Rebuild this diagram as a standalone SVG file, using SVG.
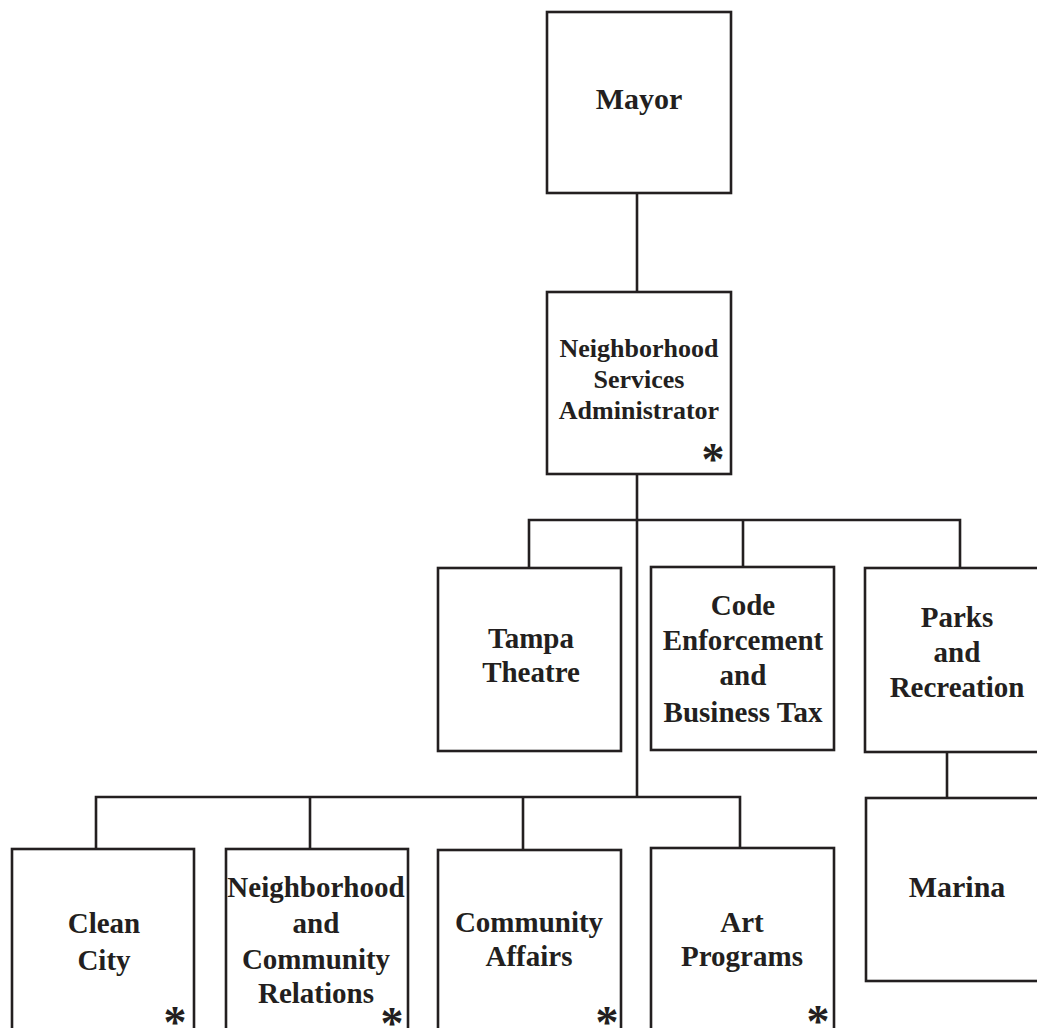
<svg xmlns="http://www.w3.org/2000/svg" width="1037" height="1028" viewBox="0 0 1037 1028">
<style>
.box{fill:#fff;stroke:#231f20;stroke-width:2.6}
.ln{fill:none;stroke:#231f20;stroke-width:2.6}
text{font-family:"Liberation Serif","Times New Roman",serif;font-weight:bold;fill:#231f20;text-anchor:middle}
.t29{font-size:29px}
.t26{font-size:26px}
.t30{font-size:30px}
.ast{font-size:46px}
</style>
<rect width="1037" height="1028" fill="#fff"/>
<g id="connectors">
<path class="ln" d="M637 193V292"/>
<path class="ln" d="M637 474V797"/>
<path class="ln" d="M529 568V520H960V568"/>
<path class="ln" d="M743 520V567"/>
<path class="ln" d="M96 849V797H740V849"/>
<path class="ln" d="M310 797V849"/>
<path class="ln" d="M523 797V849"/>
<path class="ln" d="M947 752V798"/>
</g>
<g id="mayor">
<rect class="box" x="547" y="12" width="184" height="181"/>
<text class="t30" x="639" y="109">Mayor</text>
</g>
<g id="nsa">
<rect class="box" x="547" y="292" width="184" height="182"/>
<text class="t26" x="639" y="357">Neighborhood</text>
<text class="t26" x="639" y="388">Services</text>
<text class="t26" x="639" y="419">Administrator</text>
<text class="ast" x="713" y="475">*</text>
</g>
<g id="tampa">
<rect class="box" x="438" y="568" width="183" height="183"/>
<text class="t29" x="531" y="648">Tampa</text>
<text class="t29" x="531" y="682">Theatre</text>
</g>
<g id="code">
<rect class="box" x="651" y="567" width="183" height="183"/>
<text class="t29" x="743" y="615">Code</text>
<text class="t29" x="743" y="650">Enforcement</text>
<text class="t29" x="743" y="685">and</text>
<text class="t29" x="743" y="722">Business Tax</text>
</g>
<g id="parks">
<rect class="box" x="865" y="568" width="190" height="184"/>
<text class="t29" x="957" y="627">Parks</text>
<text class="t29" x="957" y="662">and</text>
<text class="t29" x="957" y="697">Recreation</text>
</g>
<g id="marina">
<rect class="box" x="866" y="798" width="190" height="183"/>
<text class="t30" x="957" y="897">Marina</text>
</g>
<g id="cleancity">
<rect class="box" x="12" y="849" width="182" height="200"/>
<text class="t29" x="104" y="933">Clean</text>
<text class="t29" x="104" y="970">City</text>
<text class="ast" x="175" y="1038">*</text>
</g>
<g id="ncr">
<rect class="box" x="226" y="849" width="182" height="200"/>
<text class="t29" x="316" y="897">Neighborhood</text>
<text class="t29" x="316" y="933">and</text>
<text class="t29" x="316" y="969">Community</text>
<text class="t29" x="316" y="1003">Relations</text>
<text class="ast" x="392" y="1039">*</text>
</g>
<g id="community">
<rect class="box" x="438" y="850" width="183" height="200"/>
<text class="t29" x="529" y="932">Community</text>
<text class="t29" x="529" y="966">Affairs</text>
<text class="ast" x="607" y="1038">*</text>
</g>
<g id="art">
<rect class="box" x="651" y="848" width="183" height="200"/>
<text class="t29" x="742" y="932">Art</text>
<text class="t29" x="742" y="966">Programs</text>
<text class="ast" x="818" y="1037">*</text>
</g>
</svg>
